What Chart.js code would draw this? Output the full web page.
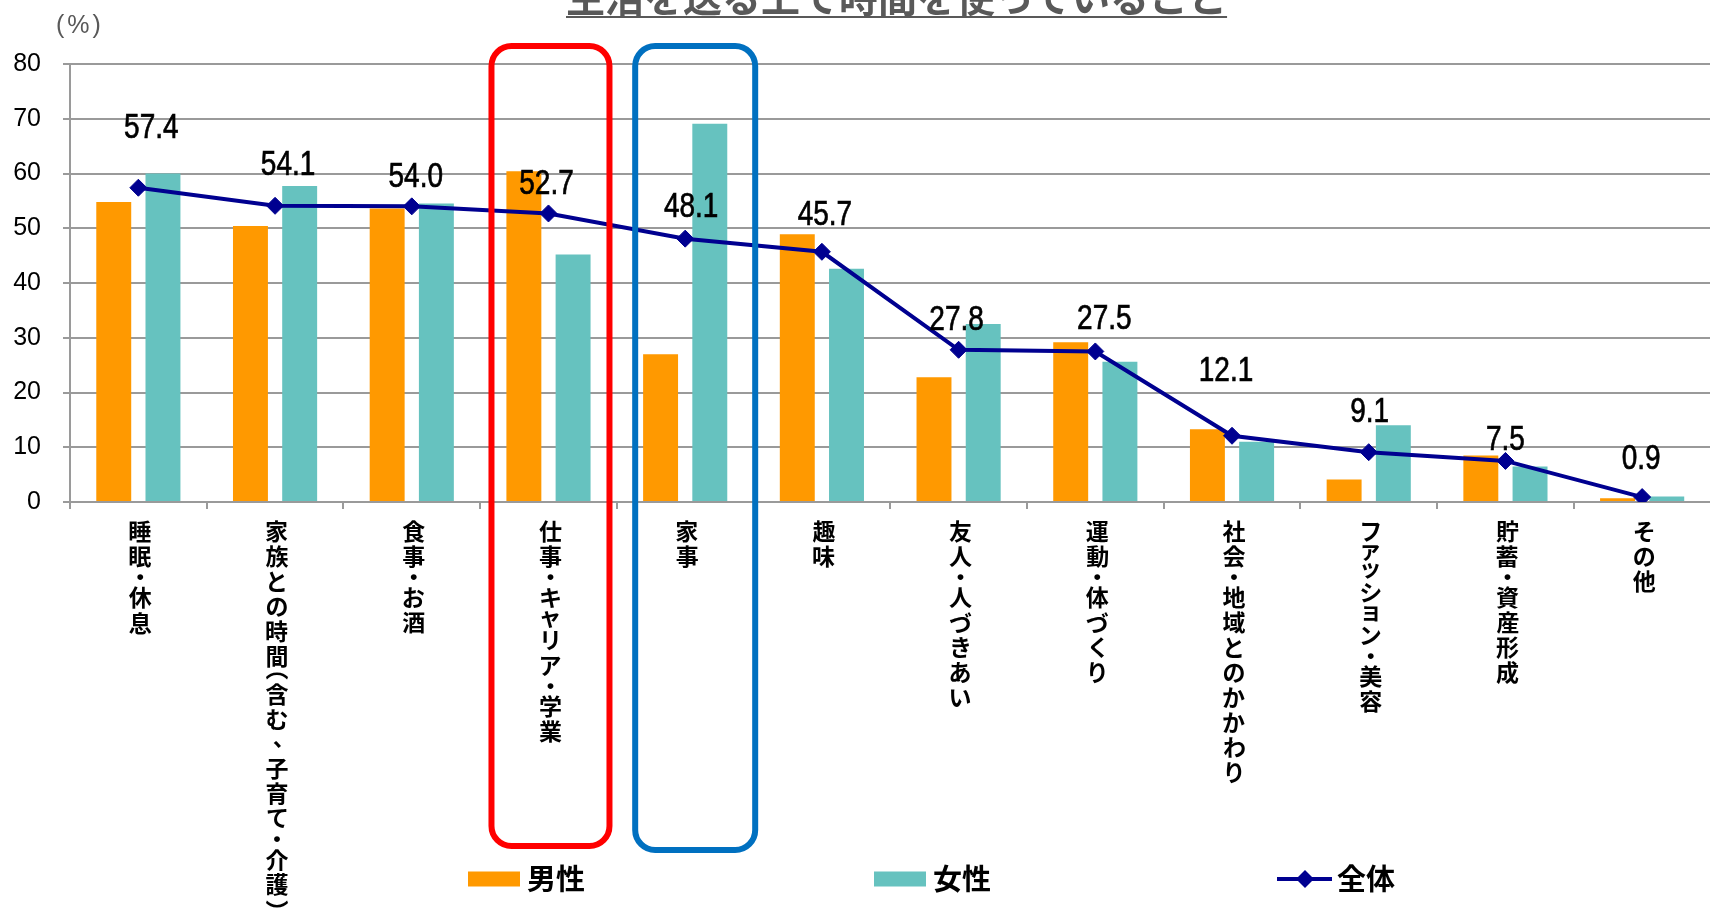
<!DOCTYPE html>
<html lang="ja">
<head>
<meta charset="utf-8">
<title>生活を送る上で時間を使っていること</title>
<script src="https://cdn.jsdelivr.net/npm/chart.js@4.4.1/dist/chart.umd.min.js"></script>
<style>
  html, body { margin: 0; padding: 0; background: #fff; overflow: hidden; }
  #wrap { position: relative; width: 1710px; height: 911px; overflow: hidden; }
  #chart { position: absolute; left: 0; top: 0; }
  #title {
    position: absolute; left: 566px; top: -24px;
    font: bold 39px/39px "Noto Sans CJK JP", sans-serif; color: #595959;
    text-decoration: underline; text-decoration-thickness: 2px; text-underline-offset: 4px;
    white-space: nowrap;
  }
  #unit {
    position: absolute; left: 56px; top: 10px;
    font: 25px/28px "Liberation Sans", Arial, sans-serif; color: #595959; letter-spacing: 3px;
  }
</style>
</head>
<body>
<div id="wrap">
  <canvas id="chart" width="1720" height="911"></canvas>
  <div id="title">生活を送る上で時間を使っていること</div>
  <div id="unit">(%)</div>
</div>
<script>
// ---- data (%) ----
const categories = ["睡眠・休息", "家族との時間（含む、子育て・介護）", "食事・お酒", "仕事・キャリア・学業", "家事", "趣味",
    "友人・人づきあい", "運動・体づくり", "社会・地域とのかかわり", "ファッション・美容", "貯蓄・資産形成", "その他"];
const male    = [54.8, 50.4, 53.6, 60.4, 27.0, 48.9, 22.8, 29.2, 13.3, 4.1, 8.5, 0.7];
const female  = [60.0, 57.7, 54.5, 45.2, 69.1, 42.6, 32.5, 25.6, 11.0, 14.0, 6.5, 1.0];
const overall = [57.4, 54.1, 54.0, 52.7, 48.1, 45.7, 27.8, 27.5, 12.1, 9.1, 7.5, 0.9];
const yTicks  = [0, 10, 20, 30, 40, 50, 60, 70, 80];

const GRID = "#9a9a9a";

// vertical writing: brackets and comma swapped for their vertical forms
const verticalForms = { "（": "︵", "）": "︶", "、": "︑" };
// characters that take less room in a vertical column
const shortAdvance = { "・": 16, "︵": 13, "︶": 13, "︑": 24,
    "ァ": 18, "ィ": 18, "ゥ": 18, "ェ": 18, "ォ": 18, "ャ": 18, "ュ": 18, "ョ": 18, "ッ": 18 };

function toVertical(label) {
    return Array.from(label).map(c => verticalForms[c] || c);
}

// category names written top to bottom under each tick
const verticalLabels = {
    id: "verticalLabels",
    afterDraw(chart, args, opts) {
        const ctx = chart.ctx;
        const xs = chart.scales.x;
        ctx.save();
        ctx.font = "bold " + opts.size + "px 'Noto Sans CJK JP', sans-serif";
        ctx.fillStyle = "#000";
        ctx.textAlign = "left";
        ctx.textBaseline = "alphabetic";
        categories.forEach((name, i) => {
            const cx = xs.getPixelForValue(i) + opts.dx;
            let y = opts.top;
            toVertical(name).forEach(ch => {
                const adv = shortAdvance[ch] || opts.pitch;
                const m = ctx.measureText(ch);
                const gx = cx - (m.actualBoundingBoxRight - m.actualBoundingBoxLeft) / 2;
                const gy = y + adv / 2 + (m.actualBoundingBoxAscent - m.actualBoundingBoxDescent) / 2;
                ctx.fillText(ch, gx, gy);
                y += adv;
            });
        });
        ctx.restore();
    }
};

// values of the 全体 line, a bit narrow like the original font
const valueLabels = {
    id: "valueLabels",
    afterDatasetsDraw(chart, args, opts) {
        const ctx = chart.ctx;
        const meta = chart.getDatasetMeta(2);
        ctx.save();
        ctx.font = opts.size + "px 'Liberation Sans', Arial, sans-serif";
        ctx.fillStyle = "#000";
        ctx.strokeStyle = "#000";
        ctx.lineWidth = 0.7;
        ctx.textAlign = "center";
        ctx.textBaseline = "alphabetic";
        meta.data.forEach((pt, i) => {
            const s = opts.shift[i];
            ctx.save();
            ctx.translate(pt.x + s[0], pt.y - s[1] + opts.size * 0.358);
            ctx.scale(opts.squeeze, 1);
            ctx.fillText(overall[i].toFixed(1), 0, 0);
            ctx.strokeText(overall[i].toFixed(1), 0, 0);
            ctx.restore();
        });
        ctx.restore();
    }
};

// rounded frames around two categories
const frames = {
    id: "frames",
    afterDraw(chart, args, opts) {
        const ctx = chart.ctx;
        const x = chart.scales.x;
        ctx.save();
        ctx.lineWidth = 6;
        opts.boxes.forEach(b => {
            const cx = x.getPixelForValue(b.index) + b.dx;
            ctx.strokeStyle = b.color;
            ctx.beginPath();
            ctx.roundRect(cx - b.w / 2, b.top, b.w, b.bottom - b.top, 20);
            ctx.stroke();
        });
        ctx.restore();
    }
};

// legend spread along the bottom
const spreadLegend = {
    id: "spreadLegend",
    afterDraw(chart, args, opts) {
        const ctx = chart.ctx;
        ctx.save();
        ctx.font = "bold 29px 'Noto Sans CJK JP', sans-serif";
        ctx.textBaseline = "middle";
        ctx.textAlign = "left";
        chart.data.datasets.forEach((ds, i) => {
            const x = opts.at[i];
            const y = opts.y;
            if (ds.type === "line") {
                ctx.strokeStyle = ds.borderColor;
                ctx.lineWidth = 4;
                ctx.beginPath();
                ctx.moveTo(x, y);
                ctx.lineTo(x + 55, y);
                ctx.stroke();
                ctx.fillStyle = ds.borderColor;
                ctx.beginPath();
                ctx.moveTo(x + 28, y - 9);
                ctx.lineTo(x + 37, y);
                ctx.lineTo(x + 28, y + 9);
                ctx.lineTo(x + 19, y);
                ctx.closePath();
                ctx.fill();
                ctx.fillStyle = "#000";
                ctx.fillText(ds.label, x + 60, y);
            } else {
                ctx.fillStyle = ds.backgroundColor;
                ctx.fillRect(x, y - 7.5, 52, 15);
                ctx.fillStyle = "#000";
                ctx.fillText(ds.label, x + 59, y);
            }
        });
        ctx.restore();
    }
};

new Chart(document.getElementById("chart"), {
    type: "bar",
    data: {
        labels: categories,
        datasets: [
            { label: "男性", data: male, backgroundColor: "#FF9900", order: 2 },
            { label: "女性", data: female, backgroundColor: "#66C2BF", order: 2 },
            {
                type: "line", label: "全体", data: overall, order: 0,
                borderColor: "#000090", backgroundColor: "#000090", borderWidth: 4,
                pointStyle: "rectRot", pointRadius: 8.5, pointBorderWidth: 1, tension: 0
            }
        ]
    },
    options: {
        responsive: false,
        animation: false,
        layout: { padding: { top: 64, right: 1, left: 0, bottom: 0 } },
        datasets: { bar: { categoryPercentage: 0.72, barPercentage: 0.71 } },
        plugins: {
            legend: { display: false },
            tooltip: { enabled: false },
            verticalLabels: { size: 23, pitch: 25, top: 519, dx: 2 },
            valueLabels: {
                size: 35,
                squeeze: 0.8,
                shift: [[13, 62], [13, 43], [4, 32], [-2, 32], [6, 34.5], [3, 39],
                        [-2, 32], [9, 34.5], [-6, 67], [1, 43], [0, 23], [-1, 41]]
            },
            frames: {
                boxes: [
                    { index: 3, dx: 2, w: 118, top: 46, bottom: 846, color: "#FF0000" },
                    { index: 4, dx: 10, w: 120, top: 46, bottom: 850, color: "#0070C0" }
                ]
            },
            spreadLegend: { at: [468, 874, 1277], y: 879 }
        },
        scales: {
            x: {
                afterFit(scale) { scale.height = 409; },
                grid: { drawOnChartArea: false, color: GRID, lineWidth: 2, tickLength: 7 },
                border: { color: GRID, width: 2 },
                ticks: { display: false, autoSkip: false, maxRotation: 0 }
            },
            y: {
                min: 0, max: 80,
                afterFit(scale) { scale.width = 70; },
                afterBuildTicks(scale) { scale.ticks = yTicks.map(v => ({ value: v })); },
                grid: { color: GRID, lineWidth: 2, tickLength: 7 },
                border: { color: GRID, width: 2 },
                ticks: {
                    padding: 22, color: "#000",
                    font: { family: "'Liberation Sans', Arial, sans-serif", size: 25 }
                }
            }
        }
    },
    plugins: [valueLabels, verticalLabels, frames, spreadLegend]
});
</script>
</body>
</html>
